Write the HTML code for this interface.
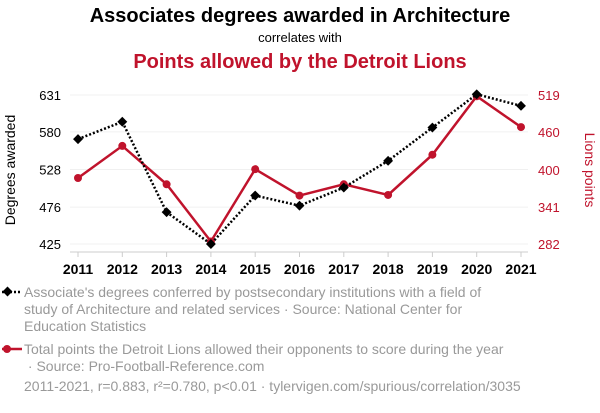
<!DOCTYPE html>
<html><head><meta charset="utf-8"><style>
body{margin:0;background:#fff;width:600px;height:408px;overflow:hidden;font-family:"Liberation Sans",sans-serif}
</style></head><body>
<svg width="600" height="408" font-family="Liberation Sans, sans-serif">
<text x="300" y="22" text-anchor="middle" font-size="20" font-weight="bold" fill="#000">Associates degrees awarded in Architecture</text>
<text x="300" y="42" text-anchor="middle" font-size="13" fill="#000">correlates with</text>
<text x="300" y="68" text-anchor="middle" font-size="20" font-weight="bold" fill="#c0132c">Points allowed by the Detroit Lions</text>
<g id="grid"></g>
<g id="axes"></g>
<g id="series"></g>
<text transform="translate(15,170) rotate(-90)" text-anchor="middle" font-size="14" fill="#000">Degrees awarded</text>
<text transform="translate(585,170) rotate(90)" text-anchor="middle" font-size="14" fill="#c0132c">Lions points</text>
<g>
<line x1="2" y1="292" x2="22" y2="292" stroke="#000" stroke-width="2.5" stroke-dasharray="2,2"/>
<rect x="4" y="288" width="7" height="7" fill="#000" transform="rotate(45 7.5 291.5)"/>
<text font-size="14" fill="#999"><tspan x="24" y="297">Associate's degrees conferred by postsecondary institutions with a field of</tspan><tspan x="24" y="314">study of Architecture and related services · Source: National Center for</tspan><tspan x="24" y="331">Education Statistics</tspan></text>
</g>
<g>
<line x1="2" y1="349" x2="22" y2="349" stroke="#c0132c" stroke-width="2.5"/>
<circle cx="7" cy="349" r="4" fill="#c0132c"/>
<text font-size="14" fill="#999"><tspan x="24" y="354">Total points the Detroit Lions allowed their opponents to score during the year</tspan><tspan x="24" y="371"> · Source: Pro-Football-Reference.com</tspan></text>
</g>
<text x="24" y="391" font-size="14" fill="#999">2011-2021, r=0.883, r²=0.780, p&lt;0.01 · tylervigen.com/spurious/correlation/3035</text>
</svg>
<script>
const years=[2011,2012,2013,2014,2015,2016,2017,2018,2019,2020,2021];
const degrees=[570,594,469,425,492,478,503,540,586,632,616];
const lions=[387,438,377,286,401,359,377,360,424,517,468];
const leftTicks=[425,476,528,580,631];
const rightTicks=[282,341,400,460,519];
const NS='http://www.w3.org/2000/svg';
const x=y=>78+(y-2011)*(521-78)/10;
const yl=v=>244-(v-425)*(244-95)/(631-425);
const yr=v=>244-(v-282)*(244-95)/(519-282);
function mk(t,a,p){const e=document.createElementNS(NS,t);for(const k in a)e.setAttribute(k,a[k]);p.appendChild(e);return e;}
const g=document.getElementById('grid'),ax=document.getElementById('axes'),s=document.getElementById('series');
leftTicks.forEach(v=>{
const l=mk('line',{x1:70,x2:528,y1:yl(v),y2:yl(v),stroke:'#f0f0f0','stroke-width':1},g);


const t=mk('text',{x:61,y:yl(v)+5,'text-anchor':'end','font-size':13,fill:'#000'},ax);t.textContent=v;


});
rightTicks.forEach(v=>{
const t=mk('text',{x:538,y:yr(v)+5,'font-size':13,fill:'#c0132c'},ax);t.textContent=v;


});
const axl=mk('line',{x1:70,x2:528,y1:252,y2:252,stroke:'#ccc','stroke-width':1},ax);


years.forEach(yv=>{
const tk=mk('line',{x1:x(yv),x2:x(yv),y1:252,y2:257,stroke:'#ccc','stroke-width':1},ax);


const t=mk('text',{x:x(yv),y:274,'text-anchor':'middle','font-size':14,'font-weight':'bold',fill:'#000'},ax);t.textContent=yv;


});
const rp=mk('polyline',{points:years.map((yv,i)=>x(yv)+','+yr(lions[i])).join(' '),fill:'none',stroke:'#c0132c','stroke-width':2.5},s);


years.forEach((yv,i)=>{const c=mk('circle',{cx:x(yv),cy:yr(lions[i]),r:4,fill:'#c0132c'},s);

});
const bp=mk('polyline',{points:years.map((yv,i)=>x(yv)+','+yl(degrees[i])).join(' '),fill:'none',stroke:'#000','stroke-width':2.5,'stroke-dasharray':'2,2'},s);


years.forEach((yv,i)=>{const cx=x(yv),cy=yl(degrees[i]);const r=mk('rect',{x:cx-3.5,y:cy-3.5,width:7,height:7,fill:'#000',transform:`rotate(45 ${cx} ${cy})`},s);

});
</script>
</body></html>
